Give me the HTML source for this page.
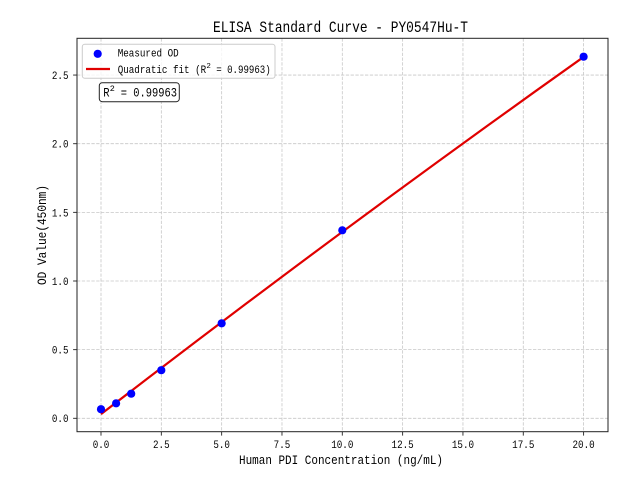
<!DOCTYPE html>
<html><head><meta charset="utf-8"><style>
html,body{margin:0;padding:0;background:#fff;}
svg{display:block;}
text{font-family:"Liberation Mono","Liberation Sans",monospace;fill:#000;white-space:pre;}
</style></head><body>
<svg width="640" height="480" viewBox="0 0 640 480" xmlns="http://www.w3.org/2000/svg">
<rect x="0" y="0" width="640" height="480" fill="#fff"/>
<!-- grid -->
<g stroke="#b0b0b0" stroke-width="0.8" stroke-dasharray="3.3,1.5" opacity="0.7">
<line x1="101" y1="38.3" x2="101" y2="431.7"/>
<line x1="161.33" y1="38.3" x2="161.33" y2="431.7"/>
<line x1="221.65" y1="38.3" x2="221.65" y2="431.7"/>
<line x1="281.98" y1="38.3" x2="281.98" y2="431.7"/>
<line x1="342.3" y1="38.3" x2="342.3" y2="431.7"/>
<line x1="402.63" y1="38.3" x2="402.63" y2="431.7"/>
<line x1="462.95" y1="38.3" x2="462.95" y2="431.7"/>
<line x1="523.28" y1="38.3" x2="523.28" y2="431.7"/>
<line x1="583.6" y1="38.3" x2="583.6" y2="431.7"/>
<line x1="77" y1="418.3" x2="608" y2="418.3"/>
<line x1="77" y1="349.65" x2="608" y2="349.65"/>
<line x1="77" y1="281" x2="608" y2="281"/>
<line x1="77" y1="212.35" x2="608" y2="212.35"/>
<line x1="77" y1="143.7" x2="608" y2="143.7"/>
<line x1="77" y1="75.05" x2="608" y2="75.05"/>
</g>
<!-- fit line -->
<polyline fill="none" stroke="#e00000" stroke-width="2.2" stroke-linejoin="round"
points="101,414.18 149.26,377.12 197.52,340.36 245.78,303.89 294.04,267.72 342.3,231.85 390.56,196.27 438.82,160.99 487.08,126.0 535.34,91.32 583.6,56.93"/>
<!-- points -->
<g fill="#0000ff">
<circle cx="101" cy="409.2" r="4.1"/>
<circle cx="116.1" cy="403.3" r="4.1"/>
<circle cx="131.2" cy="393.7" r="4.1"/>
<circle cx="161.3" cy="370.2" r="4.1"/>
<circle cx="221.65" cy="323.3" r="4.1"/>
<circle cx="342.3" cy="230.3" r="4.1"/>
<circle cx="583.6" cy="56.7" r="4.1"/>
</g>
<!-- spines -->
<rect x="77" y="38.3" width="531" height="393.4" fill="none" stroke="#222" stroke-width="1"/>
<!-- ticks -->
<g stroke="#222" stroke-width="0.9">
<line x1="101" y1="431.7" x2="101" y2="435.6"/>
<line x1="161.33" y1="431.7" x2="161.33" y2="435.6"/>
<line x1="221.65" y1="431.7" x2="221.65" y2="435.6"/>
<line x1="281.98" y1="431.7" x2="281.98" y2="435.6"/>
<line x1="342.3" y1="431.7" x2="342.3" y2="435.6"/>
<line x1="402.63" y1="431.7" x2="402.63" y2="435.6"/>
<line x1="462.95" y1="431.7" x2="462.95" y2="435.6"/>
<line x1="523.28" y1="431.7" x2="523.28" y2="435.6"/>
<line x1="583.6" y1="431.7" x2="583.6" y2="435.6"/>
<line x1="73.1" y1="418.3" x2="77" y2="418.3"/>
<line x1="73.1" y1="349.65" x2="77" y2="349.65"/>
<line x1="73.1" y1="281" x2="77" y2="281"/>
<line x1="73.1" y1="212.35" x2="77" y2="212.35"/>
<line x1="73.1" y1="143.7" x2="77" y2="143.7"/>
<line x1="73.1" y1="75.05" x2="77" y2="75.05"/>
</g>
<g font-size="11" text-anchor="middle">
<text x="101" y="448" textLength="16.6" lengthAdjust="spacingAndGlyphs">0.0</text>
<text x="161.33" y="448" textLength="16.6" lengthAdjust="spacingAndGlyphs">2.5</text>
<text x="221.65" y="448" textLength="16.6" lengthAdjust="spacingAndGlyphs">5.0</text>
<text x="281.98" y="448" textLength="16.6" lengthAdjust="spacingAndGlyphs">7.5</text>
<text x="342.3" y="448" textLength="22.2" lengthAdjust="spacingAndGlyphs">10.0</text>
<text x="402.63" y="448" textLength="22.2" lengthAdjust="spacingAndGlyphs">12.5</text>
<text x="462.95" y="448" textLength="22.2" lengthAdjust="spacingAndGlyphs">15.0</text>
<text x="523.28" y="448" textLength="22.2" lengthAdjust="spacingAndGlyphs">17.5</text>
<text x="583.6" y="448" textLength="22.2" lengthAdjust="spacingAndGlyphs">20.0</text>
</g>
<g font-size="11" text-anchor="end">
<text x="68.5" y="422.2" textLength="16.6" lengthAdjust="spacingAndGlyphs">0.0</text>
<text x="68.5" y="353.55" textLength="16.6" lengthAdjust="spacingAndGlyphs">0.5</text>
<text x="68.5" y="284.9" textLength="16.6" lengthAdjust="spacingAndGlyphs">1.0</text>
<text x="68.5" y="216.25" textLength="16.6" lengthAdjust="spacingAndGlyphs">1.5</text>
<text x="68.5" y="147.6" textLength="16.6" lengthAdjust="spacingAndGlyphs">2.0</text>
<text x="68.5" y="78.95" textLength="16.6" lengthAdjust="spacingAndGlyphs">2.5</text>
</g>
<!-- labels -->
<text x="341" y="464" font-size="13.3" text-anchor="middle" textLength="204" lengthAdjust="spacingAndGlyphs">Human PDI Concentration (ng/mL)</text>
<text x="46" y="235" font-size="13.3" text-anchor="middle" textLength="100" lengthAdjust="spacingAndGlyphs" transform="rotate(-90 46 235)">OD Value(450nm)</text>
<text x="340.5" y="32" font-size="15.6" text-anchor="middle" textLength="255" lengthAdjust="spacingAndGlyphs">ELISA Standard Curve - PY0547Hu-T</text>
<!-- legend -->
<rect x="82.3" y="44.3" width="192.7" height="34" rx="2.5" ry="2.5" fill="#fff" fill-opacity="0.8" stroke="#cccccc" stroke-width="1"/>
<circle cx="97.7" cy="53.8" r="4.1" fill="#0000ff"/>
<line x1="86" y1="69" x2="110" y2="69" stroke="#e00000" stroke-width="2.2"/>
<text x="117.7" y="56.5" font-size="11" textLength="61" lengthAdjust="spacingAndGlyphs">Measured OD</text>
<text x="117.7" y="73" font-size="11" textLength="88.5" lengthAdjust="spacingAndGlyphs">Quadratic fit (R</text>
<text x="206.4" y="68" font-size="7.5">2</text>
<text x="216.2" y="73" font-size="11" textLength="54.5" lengthAdjust="spacingAndGlyphs">=&#160;0.99963)</text>
<!-- R2 box -->
<rect x="99.3" y="82.7" width="80" height="19" rx="3" ry="3" fill="#fff" stroke="#222" stroke-width="1"/>
<text x="103.3" y="96.7" font-size="12.5" textLength="6.3" lengthAdjust="spacingAndGlyphs">R</text>
<text x="109.8" y="91" font-size="8.5">2</text>
<text x="120.8" y="96.7" font-size="12.5" textLength="56.2" lengthAdjust="spacingAndGlyphs">=&#160;0.99963</text>
</svg>
</body></html>
